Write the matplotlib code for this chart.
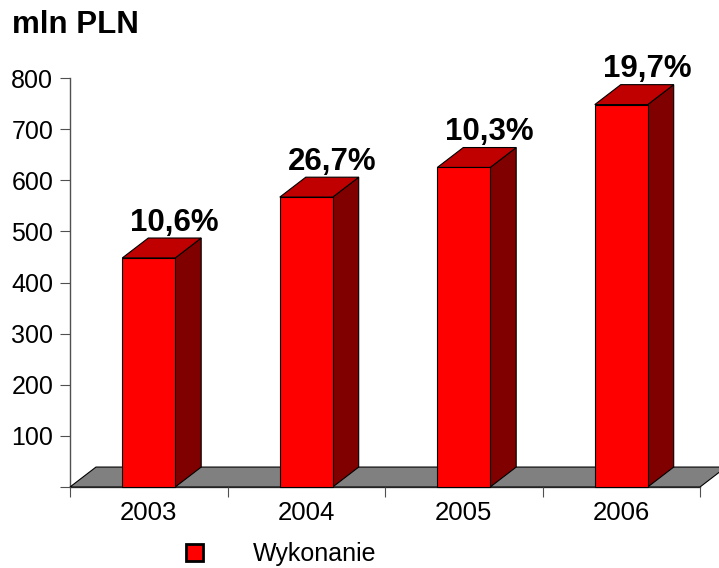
import matplotlib
matplotlib.use('Agg')

import matplotlib.pyplot as plt
from matplotlib.patches import Polygon, Rectangle, Patch

plt.rcParams['font.family'] = ['Liberation Sans', 'DejaVu Sans']

# data
years = ['2003', '2004', '2005', '2006']
values = [448, 567, 625, 748]
growth = ['10,6%', '26,7%', '10,3%', '19,7%']
series_name = 'Wykonanie'

# 3d look
bar_w = 0.336
depth_x = 0.165
depth_y = 39
front = '#ff0000'
top = '#c00000'
side = '#800000'
floor_col = '#808080'
axis_col = '#505050'

fig = plt.figure(figsize=(7.19, 5.68), dpi=100)
ax = fig.add_axes([70 / 719, 1 - 487 / 568, 630 / 719, 409 / 568])
ax.set_xlim(0, len(years))
ax.set_ylim(0, 800)

# floor
ax.add_patch(Polygon([(0, 0), (len(years), 0), (len(years) + depth_x, depth_y), (depth_x, depth_y)],
                     closed=True, facecolor=floor_col, edgecolor='black', lw=0.8,
                     clip_on=False, zorder=1))

for i, v in enumerate(values):
    c = i + 0.5
    x0 = c - bar_w / 2
    x1 = c + bar_w / 2
    ax.add_patch(Polygon([(x1, 0), (x1 + depth_x, depth_y), (x1 + depth_x, v + depth_y), (x1, v)],
                         closed=True, facecolor=side, edgecolor='black', lw=0.8, clip_on=False, zorder=2))
    ax.add_patch(Polygon([(x0, v), (x1, v), (x1 + depth_x, v + depth_y), (x0 + depth_x, v + depth_y)],
                         closed=True, facecolor=top, edgecolor='black', lw=0.8, clip_on=False, zorder=2))
    ax.add_patch(Rectangle((x0, 0), bar_w, v, facecolor=front, edgecolor='black', lw=0.8,
                           clip_on=False, zorder=3))
    ax.text(c + depth_x, v + depth_y + 14, growth[i], ha='center', va='baseline',
            fontsize=22.5, fontweight='bold', zorder=4)

for s in ['top', 'right']:
    ax.spines[s].set_visible(False)
for s in ['left', 'bottom']:
    ax.spines[s].set_color(axis_col)
    ax.spines[s].set_linewidth(1)
    ax.spines[s].set_zorder(0)

ax.set_yticks(range(0, 801, 100))
ax.set_yticklabels([''] + [str(t) for t in range(100, 801, 100)])
ax.set_xticks(range(len(years) + 1))
ax.set_xticklabels([])
ax.set_xticks([i + 0.5 for i in range(len(years))], minor=True)
ax.set_xticklabels(years, minor=True)
ax.tick_params(axis='y', length=7, color=axis_col, labelsize=18, pad=5)
ax.tick_params(axis='x', which='major', length=7, color=axis_col)
ax.tick_params(axis='x', which='minor', length=0, labelsize=18.5, pad=10)

fig.text(12 / 719, 1 - 33 / 568, 'mln PLN', fontsize=22.5, fontweight='bold', ha='left', va='baseline')

fig.legend(handles=[Patch(facecolor=front, edgecolor='black', lw=2)], labels=[series_name],
           loc='center left', bbox_to_anchor=(186 / 719, 1 - 554 / 568), frameon=False,
           fontsize=18, handlelength=0.68, handleheight=0.68, handletextpad=2.0, borderpad=0,
           borderaxespad=0)

fig.savefig('out.png', dpi=100)
